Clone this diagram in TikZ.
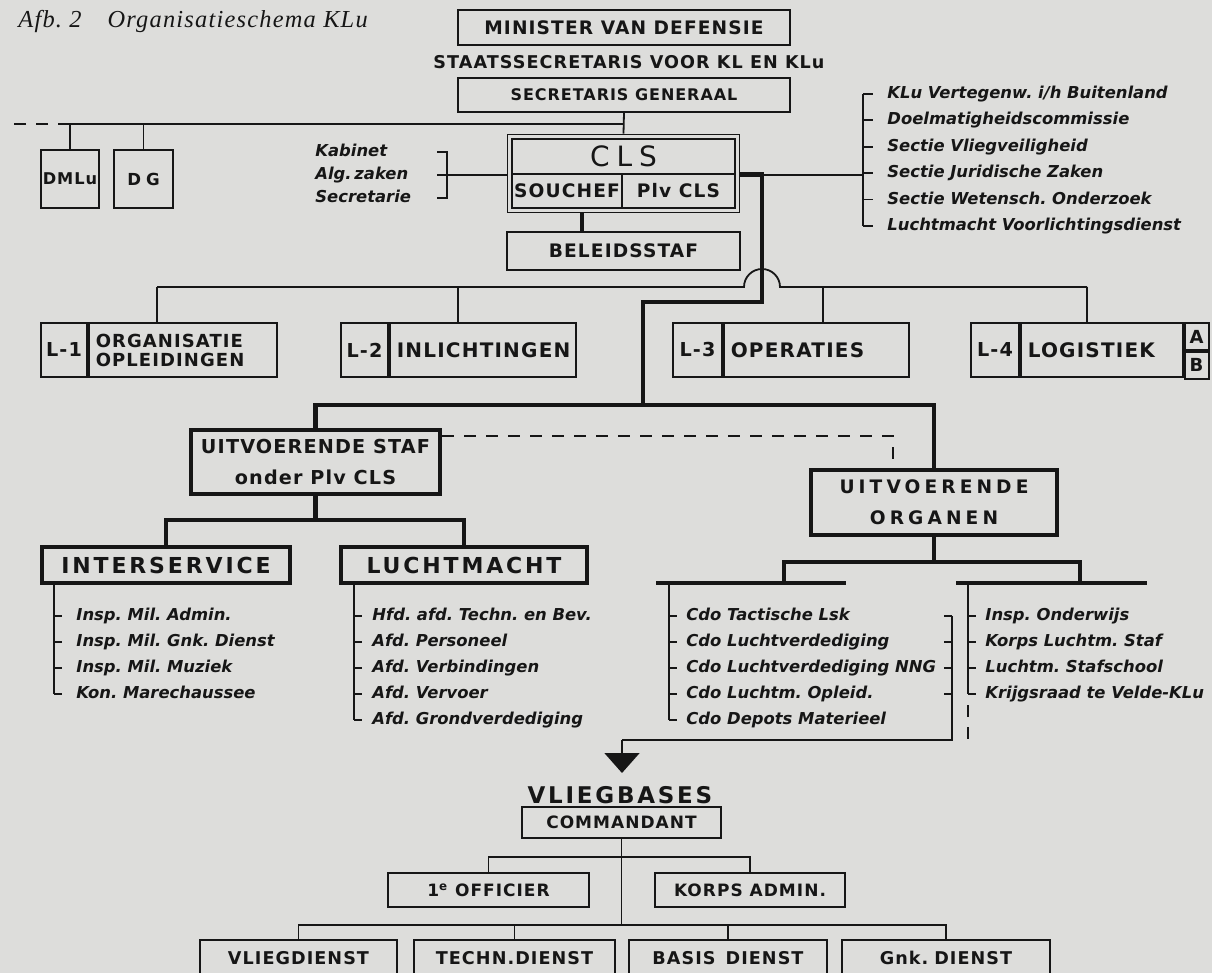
\documentclass[tikz,border=0pt]{standalone}
\usepackage{fontspec}
\setmainfont{DejaVu Sans}
\newfontfamily\letters{DejaVu Sans}[LetterSpace=6]
\newfontfamily\titlefont{Liberation Serif}[LetterSpace=5]
\usetikzlibrary{arrows.meta}
\definecolor{paper}{RGB}{221,221,219}
\definecolor{ink}{RGB}{22,22,22}

\begin{document}
\begin{tikzpicture}[x=0.5pt,y=-0.5pt,
    link/.style={draw=ink,line width=0.9pt},
    mainlink/.style={draw=ink,line width=2.4pt},
    dashlink/.style={draw=ink,line width=0.9pt,dash pattern=on 6pt off 5pt},
    box/.style={draw=ink,line width=0.9pt,inner sep=0pt,text=ink,font=\letters\bfseries\fontsize{9}{10}\selectfont},
    fatbox/.style={box,line width=2.2pt},
    cell/.style={box,anchor=west,align=left,inner xsep=3.5pt,minimum height=27pt},
    freetext/.style={inner sep=0pt,text=ink,font=\letters\bfseries\fontsize{9}{10}\selectfont},
    listitem/.style={anchor=west,inner sep=0pt,text=ink,text height=6.2pt,text depth=1.7pt,font=\bfseries\itshape\fontsize{8.2}{9}\selectfont}]
    \fill[paper] (0,0) rectangle (1212,973);
    \useasboundingbox (0,0) rectangle (1212,973);
    \clip (0,0) rectangle (1212,973);

    \node[anchor=base west,inner sep=0pt,text=ink,font=\titlefont\itshape\fontsize{12.2}{13}\selectfont] (title) at (18,28) {Afb.\ 2\hspace{13pt}Organisatieschema KLu};

    \node[box,minimum width=166pt,minimum height=17.5pt,font=\letters\bfseries\fontsize{9.3}{10}\selectfont] (minister) at (624,27.5) {MINISTER VAN DEFENSIE};
    \node[freetext,font=\letters\bfseries\fontsize{8.8}{10}\selectfont] (staats) at (629,62) {STAATSSECRETARIS VOOR KL EN KLu};
    \node[box,minimum width=166pt,minimum height=17pt,font=\letters\bfseries\fontsize{8}{10}\selectfont] (sg) at (624,95) {SECRETARIS GENERAAL};

    \node[box,minimum width=116pt,minimum height=39pt] (cls) at (623.5,173.5) {};
    \node[box,minimum width=111.5pt,minimum height=17.5pt,font=\letters\fontsize{14}{14}\selectfont\addfontfeatures{LetterSpace=25}] (clstop) at (623.5,156.5) {CLS};
    \node[box,minimum width=55pt,minimum height=17pt,font=\letters\bfseries\fontsize{9.3}{10}\selectfont] (souchef) at (567,191) {SOUCHEF};
    \node[box,minimum width=56.5pt,minimum height=17pt,font=\letters\bfseries\fontsize{9.3}{10}\selectfont] (plvcls) at (678.5,191) {Plv CLS};
    \node[box,minimum width=116.5pt,minimum height=19pt,font=\letters\bfseries\fontsize{9.3}{10}\selectfont] (beleid) at (623.5,251) {BELEIDSSTAF};

    \node[box,minimum width=29pt,minimum height=29pt,font=\letters\bfseries\fontsize{8.1}{10}\selectfont] (dmlu) at (70,179) {DMLu};
    \node[box,minimum width=29.5pt,minimum height=29pt,font=\letters\bfseries\fontsize{8.3}{10}\selectfont\addfontfeatures{LetterSpace=30}] (dg) at (143.5,179) {DG};
    \coordinate (sgjoin) at (623.5,124);
    \coordinate (dashstart) at (10,124);
    \draw[link] (sg.south) -- (cls.north);
    \draw[link] (dmlu.north) |- (sgjoin);
    \draw[link] (dg.north) -- (dg.north |- sgjoin);
    \draw[dashlink] (dmlu.north |- sgjoin) -- (dashstart);

    \node[listitem] (ka1) at (315,152) {Kabinet};
    \node[listitem] (ka2) at (315,175) {Alg.\,zaken};
    \node[listitem] (ka3) at (315,198) {Secretarie};
    \coordinate (ktick) at (437,0);
    \coordinate (kbr) at (447,0);
    \draw[link] (ktick |- ka1.west) -| (kbr |- ka3.west) -- (ktick |- ka3.west);
    \draw[link] (ktick |- ka2.west) -- (cls.west |- ka2.west);

    \coordinate (tbar) at (863,0);
    \foreach \txt [count=\i] in {KLu Vertegenw.\ i/h Buitenland,Doelmatigheidscommissie,Sectie Vliegveiligheid,Sectie Juridische Zaken,Sectie Wetensch.\ Onderzoek,Luchtmacht Voorlichtingsdienst} {
        \node[listitem] (tr\i) at (887,67.6+26.4*\i) {\txt};
        \draw[link] (tbar |- tr\i.west) -- ++(10,0);
    }
    \draw[link] (tbar |- tr1.west) -- (tbar |- tr6.west);

    \coordinate (bend1) at (762,302);
    \coordinate (bend2) at (643,405);
    \coordinate (tapb) at (582,0);
    \draw[link] (bend1 |- clstop.south) -- (tbar |- clstop.south);
    \draw[mainlink] (cls.south -| tapb) -- (beleid.north -| tapb);
    \draw[mainlink] (cls.east |- clstop.south) -| (bend1) -| (bend2);

    \node[box,minimum width=23pt,minimum height=27pt,font=\letters\bfseries\fontsize{9.6}{10}\selectfont] (l1) at (64,350) {L-1};
    \node[cell,text width=87pt,font=\letters\bfseries\fontsize{9}{9.5}\selectfont] (l1n) at (l1.east) {ORGANISATIE\\OPLEIDINGEN};
    \node[box,minimum width=23.5pt,minimum height=27pt,font=\letters\bfseries\fontsize{9.6}{10}\selectfont] (l2) at (364.5,350) {L-2};
    \node[cell,text width=86pt,font=\letters\bfseries\fontsize{10}{10}\selectfont] (l2n) at (l2.east) {INLICHTINGEN};
    \node[box,minimum width=24.5pt,minimum height=27pt,font=\letters\bfseries\fontsize{9.6}{10}\selectfont] (l3) at (697.5,350) {L-3};
    \node[cell,text width=85.5pt,font=\letters\bfseries\fontsize{10}{10}\selectfont] (l3n) at (l3.east) {OPERATIES};
    \node[box,minimum width=24pt,minimum height=27pt,font=\letters\bfseries\fontsize{9.6}{10}\selectfont] (l4) at (995,350) {L-4};
    \node[cell,text width=74pt,font=\letters\bfseries\fontsize{10}{10}\selectfont] (l4n) at (l4.east) {LOGISTIEK};
    \node[box,anchor=north west,minimum width=12pt,minimum height=13.5pt] (la) at (l4n.north east) {A};
    \node[box,anchor=north west,minimum width=12pt,minimum height=13.5pt] (lb) at (la.south west) {B};

    \coordinate (hop) at (762,287);
    \coordinate (t1) at (157,287);
    \coordinate (t2) at (458,287);
    \coordinate (t3) at (823,287);
    \coordinate (t4) at (1087,287);
    \draw[link] (t1) -- ([xshift=-9pt]hop) arc[start angle=180,end angle=0,radius=9pt] -- (t4);
    \draw[link] (t1) -- (t1 |- l1n.north);
    \draw[link] (t2) -- (t2 |- l2n.north);
    \draw[link] (t3) -- (t3 |- l3n.north);
    \draw[link] (t4) -- (t4 |- l4n.north);

    \node[fatbox,minimum width=124.5pt,minimum height=32pt,align=center,font=\letters\bfseries\fontsize{9.6}{15.5}\selectfont] (staf) at (315.5,462) {UITVOERENDE STAF\\onder Plv CLS};
    \node[fatbox,minimum width=123pt,minimum height=32.5pt,align=center,font=\letters\bfseries\fontsize{9.3}{15.5}\selectfont\addfontfeatures{LetterSpace=22}] (organen) at (934,502.5) {UITVOERENDE\\ORGANEN};
    \draw[mainlink] (staf.north) |- (bend2) -| (organen.north);
    \coordinate (dashc) at (893,436);
    \draw[dashlink] (staf.east |- dashc) -- (dashc) -- (dashc |- organen.north);

    \node[fatbox,minimum width=124pt,minimum height=18pt,font=\letters\bfseries\fontsize{11}{12}\selectfont\addfontfeatures{LetterSpace=13}] (inter) at (166,565) {INTERSERVICE};
    \node[fatbox,minimum width=123pt,minimum height=18pt,font=\letters\bfseries\fontsize{11}{12}\selectfont\addfontfeatures{LetterSpace=13}] (lucht) at (464,565) {LUCHTMACHT};
    \coordinate (sbus) at (315.5,520);
    \draw[mainlink] (staf.south) -- (sbus);
    \draw[mainlink] (inter.north) |- (sbus) -| (lucht.north);

    \coordinate (ibar) at (54,0);
    \foreach \txt [count=\i] in {Insp.\ Mil.\ Admin.,Insp.\ Mil.\ Gnk.\ Dienst,Insp.\ Mil.\ Muziek,Kon.\ Marechaussee} {
        \node[listitem] (is\i) at (76,590+26*\i) {\txt};
        \draw[link] (ibar |- is\i.west) -- ++(8,0);
    }
    \draw[link] (ibar |- inter.south) -- (ibar |- is4.west);

    \coordinate (lbar) at (354,0);
    \foreach \txt [count=\i] in {Hfd.\ afd.\ Techn.\ en Bev.,Afd.\ Personeel,Afd.\ Verbindingen,Afd.\ Vervoer,Afd.\ Grondverdediging} {
        \node[listitem] (lm\i) at (372,590+26*\i) {\txt};
        \draw[link] (lbar |- lm\i.west) -- ++(8,0);
    }
    \draw[link] (lbar |- lucht.south) -- (lbar |- lm5.west);

    \coordinate (obus) at (934,562);
    \coordinate (orgl) at (784,583);
    \coordinate (orgr) at (1080,583);
    \draw[mainlink] (organen.south) -- (obus);
    \draw[mainlink] (orgl) |- (obus) -| (orgr);
    \draw[mainlink] ([xshift=-64pt]orgl) -- ([xshift=31pt]orgl);
    \draw[mainlink] ([xshift=-62pt]orgr) -- ([xshift=33.5pt]orgr);

    \coordinate (obar) at (669,583);
    \foreach \txt [count=\i] in {Cdo Tactische Lsk,Cdo Luchtverdediging,Cdo Luchtverdediging NNG,Cdo Luchtm.\ Opleid.,Cdo Depots Materieel} {
        \node[listitem] (lo\i) at (686,590+26*\i) {\txt};
        \draw[link] (obar |- lo\i.west) -- ++(8,0);
    }
    \draw[link] (obar) -- (obar |- lo5.west);

    \coordinate (rbar) at (968,583);
    \foreach \txt [count=\i] in {Insp.\ Onderwijs,Korps Luchtm.\ Staf,Luchtm.\ Stafschool,Krijgsraad te Velde-KLu} {
        \node[listitem] (ro\i) at (985,590+26*\i) {\txt};
        \draw[link] (rbar |- ro\i.west) -- ++(8,0);
    }
    \draw[link] (rbar) -- (rbar |- ro4.west);
    \coordinate (rdash) at (968,705);
    \coordinate (rdashend) at (968,748);
    \draw[dashlink] (rdash) -- (rdashend);

    \coordinate (kbar) at (952,0);
    \coordinate (arrowtop) at (622,740);
    \coordinate (arrowtip) at (622,773);
    \foreach \i in {1,...,4} {
        \draw[link] (kbar |- lo\i.west) -- ++(-8,0);
    }
    \draw[link] (kbar |- lo1.west) |- (arrowtop);
    \draw[link,-{Triangle[width=17.5pt,length=10pt]}] (arrowtop) -- (arrowtip);

    \node[freetext,font=\letters\bfseries\fontsize{11.5}{12}\selectfont\addfontfeatures{LetterSpace=12}] (vb) at (620,795) {VLIEGBASES};
    \node[box,minimum width=99.5pt,minimum height=15.5pt,font=\letters\bfseries\fontsize{8.5}{10}\selectfont] (cmdt) at (621.5,822.5) {COMMANDANT};
    \node[box,minimum width=100.5pt,minimum height=17pt,font=\letters\bfseries\fontsize{8.5}{10}\selectfont] (off) at (488.5,890) {1\textsuperscript{e} OFFICIER};
    \node[box,minimum width=95pt,minimum height=17pt,font=\letters\bfseries\fontsize{8.5}{10}\selectfont] (korps) at (750,890) {KORPS ADMIN.};
    \node[box,minimum width=98.5pt,minimum height=18pt,font=\letters\bfseries\fontsize{8.8}{10}\selectfont] (vd) at (298.5,958) {VLIEGDIENST};
    \node[box,minimum width=100.5pt,minimum height=18pt,font=\letters\bfseries\fontsize{8.8}{10}\selectfont] (td) at (514.5,958) {TECHN.DIENST};
    \node[box,minimum width=99pt,minimum height=18pt,font=\letters\bfseries\fontsize{8.8}{10}\selectfont] (bd) at (728,958) {BASIS\hspace{5pt}DIENST};
    \node[box,minimum width=104pt,minimum height=18pt,font=\letters\bfseries\fontsize{8.8}{10}\selectfont] (gd) at (946,958) {Gnk.\hspace{3pt}DIENST};
    \coordinate (ubus) at (621.5,857);
    \coordinate (dbus) at (621.5,925);
    \draw[link] (cmdt.south) -- (dbus);
    \draw[link] (off.north) |- (ubus) -| (korps.north);
    \draw[link] (vd.north) |- (dbus) -| (gd.north);
    \draw[link] (td.north) -- (td.north |- dbus);
    \draw[link] (bd.north) -- (bd.north |- dbus);
\end{tikzpicture}
\end{document}
